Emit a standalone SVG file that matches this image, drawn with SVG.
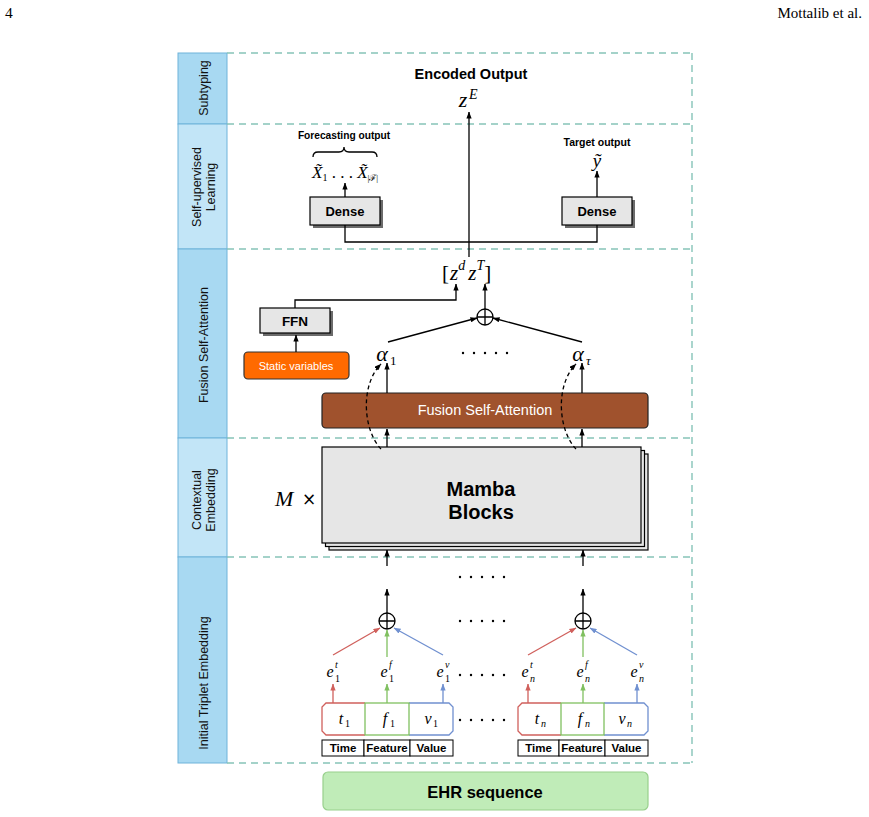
<svg xmlns="http://www.w3.org/2000/svg" width="869" height="817" viewBox="0 0 869 817">
<style>
.side{stroke:#6fb3da;stroke-width:1}
.dk{fill:#a8d9f2}
.lt{fill:#c2e5f7}
.sl{font-family:"Liberation Sans",Arial,sans-serif;font-size:12.5px;fill:#111;text-anchor:middle}
.dash{stroke:#86c4b8;stroke-width:1.4;stroke-dasharray:7 5;fill:none}
.b{font-family:"Liberation Sans",Arial,sans-serif;font-weight:bold;fill:#000;text-anchor:middle}
.w{font-family:"Liberation Sans",Arial,sans-serif;fill:#fff;text-anchor:middle}
.m{font-family:"Liberation Serif","Times New Roman",serif;font-style:italic;fill:#000}
.n{font-style:normal}
.ln{stroke:#000;stroke-width:1.3;fill:none}
.box{fill:#e6e6e6;stroke:#000;stroke-width:1.2}
.sh{fill:#6b6b6b}
.r{stroke:#d0605c;stroke-width:1.3;fill:none}
.g{stroke:#80c060;stroke-width:1.3;fill:none}
.bl{stroke:#7090d0;stroke-width:1.3;fill:none}
.lb{fill:#fff;stroke:#000;stroke-width:1}
.dot{fill:#000}
</style>
<defs>
<marker id="ak" viewBox="0 0 8 6" refX="7.5" refY="3" markerWidth="7" markerHeight="5.5" markerUnits="userSpaceOnUse" orient="auto"><path d="M0,0 L8,3 L0,6 z" fill="#000"/></marker>
<marker id="ar" viewBox="0 0 8 6" refX="7.5" refY="3" markerWidth="7" markerHeight="5.5" markerUnits="userSpaceOnUse" orient="auto"><path d="M0,0 L8,3 L0,6 z" fill="#d0605c"/></marker>
<marker id="ag" viewBox="0 0 8 6" refX="7.5" refY="3" markerWidth="7" markerHeight="5.5" markerUnits="userSpaceOnUse" orient="auto"><path d="M0,0 L8,3 L0,6 z" fill="#80c060"/></marker>
<marker id="ab" viewBox="0 0 8 6" refX="7.5" refY="3" markerWidth="7" markerHeight="5.5" markerUnits="userSpaceOnUse" orient="auto"><path d="M0,0 L8,3 L0,6 z" fill="#7090d0"/></marker>
</defs>

<g id="header">
<text x="5" y="18" font-family="'Liberation Serif','Times New Roman',serif" font-size="15.5">4</text>
<text x="862" y="18" font-family="'Liberation Serif','Times New Roman',serif" font-size="15" text-anchor="end">Mottalib et al.</text>
</g>

<g id="sidebar">
<rect class="side dk" x="178" y="53" width="49" height="71"/>
<rect class="side lt" x="178" y="124" width="49" height="125"/>
<rect class="side dk" x="178" y="249" width="49" height="189"/>
<rect class="side lt" x="178" y="438" width="49" height="119"/>
<rect class="side dk" x="178" y="557" width="49" height="206"/>
<text class="sl" transform="translate(208,88) rotate(-90)">Subtyping</text>
<text class="sl" transform="translate(201,187) rotate(-90)">Self-upervised</text>
<text class="sl" transform="translate(215,187) rotate(-90)">Learning</text>
<text class="sl" transform="translate(208,345) rotate(-90)">Fusion Self-Attention</text>
<text class="sl" transform="translate(201,500) rotate(-90)">Contextual</text>
<text class="sl" transform="translate(215,500) rotate(-90)">Embedding</text>
<text class="sl" transform="translate(208,683) rotate(-90)">Initial Triplet Embedding</text>
</g>

<g id="regions">
<path class="dash" d="M227 53H692M227 124H692M227 249H692M227 438H692M227 557H692M227 763H692M692 53V763"/>
</g>

<g id="encoded-output">
<text class="b" x="471" y="79" font-size="14.5">Encoded Output</text>
<text class="m" x="463" y="107" font-size="22" text-anchor="middle">z</text>
<text class="m" x="469" y="99" font-size="14">E</text>
</g>

<g id="forecasting-output">
<text class="b" x="344" y="139" font-size="10.2">Forecasting output</text>
<path class="ln" stroke-width="1.1" d="M313,157 Q313,152 318,152 H339 Q344,152 344,147 Q344,152 349,152 H372 Q377,152 377,157"/>
<text class="m" x="312" y="178" font-size="17">X̃<tspan class="n" font-size="10" dy="3">1</tspan><tspan class="n" dy="-3"> . . . </tspan>X̃<tspan class="n" font-size="9" dy="3">|ℱ|</tspan></text>
</g>

<g id="target-output">
<text class="b" x="597" y="146" font-size="10.5">Target output</text>
<text class="m" x="597" y="167" font-size="19" text-anchor="middle">ỹ</text>
</g>

<g id="dense-left">
<rect class="sh" x="313" y="200" width="70" height="28"/>
<rect class="box" x="310" y="197" width="70" height="28"/>
<text class="b" x="345" y="216" font-size="13">Dense</text>
</g>
<g id="dense-right">
<rect class="sh" x="565" y="200" width="70" height="28"/>
<rect class="box" x="562" y="197" width="70" height="28"/>
<text class="b" x="597" y="216" font-size="13">Dense</text>
</g>

<g id="concat">
<text class="m n" x="442" y="280" font-size="21">[<tspan class="m" dx="1">z</tspan><tspan class="m" font-size="14" dy="-10">d</tspan><tspan class="m" dy="10" dx="3">z</tspan><tspan class="m" font-size="14" dy="-10">T</tspan><tspan dy="10">]</tspan></text>
</g>

<g id="ffn">
<rect class="sh" x="263" y="311" width="70" height="25"/>
<rect class="box" x="260" y="308" width="70" height="25"/>
<text class="b" x="295" y="326" font-size="13.5">FFN</text>
</g>

<g id="static-variables">
<rect x="244" y="352" width="105" height="27" rx="4" fill="#ff6a00" stroke="#333" stroke-width="1.2"/>
<text class="w" x="296" y="370" font-size="11">Static variables</text>
</g>

<g id="sum-top">
<circle cx="485" cy="317" r="8" fill="none" stroke="#000" stroke-width="1.3"/>
<path class="ln" d="M477 317H493M485 309V325"/>
</g>

<g id="alpha-1">
<text class="m" x="382" y="361" font-size="22" text-anchor="middle">α</text>
<text class="m n" x="390" y="365" font-size="13">1</text>
</g>
<g id="alpha-tau">
<text class="m" x="578" y="361" font-size="22" text-anchor="middle">α</text>
<text class="m" x="586" y="365" font-size="13">τ</text>
</g>

<g id="fusion-self-attention">
<rect x="322" y="393" width="326" height="35" rx="4" fill="#a0522d" stroke="#222" stroke-width="1.2"/>
<text class="w" x="485" y="415" font-size="14.5">Fusion Self-Attention</text>
</g>

<g id="mamba-blocks">
<rect class="box" x="329" y="454" width="319" height="96"/>
<rect class="box" x="325.5" y="450.5" width="319" height="96"/>
<rect class="box" x="322" y="447" width="319" height="96"/>
<text class="b" x="481" y="496" font-size="20">Mamba</text>
<text class="b" x="481" y="519" font-size="20">Blocks</text>
</g>
<g id="m-times">
<text class="m" x="275" y="506" font-size="22">M</text>
<text x="302" y="505" font-size="17" font-family="'DejaVu Sans',sans-serif">×</text>
</g>

<g id="triplet-1">
<path class="r" d="M365 703H326L322 707V731L326 735H365"/>
<path class="bl" d="M409 703H449L453 707V731L449 735H409"/>
<rect class="g" x="365" y="703" width="44" height="32"/>
<text class="m" x="341" y="724" font-size="16" text-anchor="middle">t</text>
<text class="m n" x="345" y="727" font-size="10">1</text>
<text class="m" x="385" y="724" font-size="16" text-anchor="middle">f</text>
<text class="m n" x="390" y="727" font-size="10">1</text>
<text class="m" x="428" y="724" font-size="16" text-anchor="middle">v</text>
<text class="m n" x="433" y="727" font-size="10">1</text>
<rect class="lb" x="322" y="740" width="42" height="16"/>
<rect class="lb" x="364" y="740" width="46" height="16"/>
<rect class="lb" x="410" y="740" width="43" height="16"/>
<text class="b" x="343" y="752" font-size="11.5">Time</text>
<text class="b" x="387" y="752" font-size="11.5">Feature</text>
<text class="b" x="431.5" y="752" font-size="11.5">Value</text>
</g>

<g id="triplet-n">
<path class="r" d="M561 703H522L518 707V731L522 735H561"/>
<path class="bl" d="M604 703H644L648 707V731L644 735H604"/>
<rect class="g" x="561" y="703" width="43" height="32"/>
<text class="m" x="537" y="724" font-size="16" text-anchor="middle">t</text>
<text class="m" x="541" y="727" font-size="10">n</text>
<text class="m" x="580" y="724" font-size="16" text-anchor="middle">f</text>
<text class="m" x="585" y="727" font-size="10">n</text>
<text class="m" x="622" y="724" font-size="16" text-anchor="middle">v</text>
<text class="m" x="627" y="727" font-size="10">n</text>
<rect class="lb" x="518" y="740" width="41" height="16"/>
<rect class="lb" x="559" y="740" width="46" height="16"/>
<rect class="lb" x="605" y="740" width="43" height="16"/>
<text class="b" x="538.5" y="752" font-size="11.5">Time</text>
<text class="b" x="582" y="752" font-size="11.5">Feature</text>
<text class="b" x="626.5" y="752" font-size="11.5">Value</text>
</g>

<g id="embeddings-1">
<text class="m" x="330" y="677" font-size="16" text-anchor="middle">e</text>
<text class="m n" x="335" y="682" font-size="10">1</text>
<text class="m" x="335" y="668" font-size="10">t</text>
<text class="m" x="384" y="677" font-size="16" text-anchor="middle">e</text>
<text class="m n" x="389" y="682" font-size="10">1</text>
<text class="m" x="389" y="668" font-size="10">f</text>
<text class="m" x="440" y="677" font-size="16" text-anchor="middle">e</text>
<text class="m n" x="445" y="682" font-size="10">1</text>
<text class="m" x="445" y="668" font-size="10">v</text>
</g>
<g id="embeddings-n">
<text class="m" x="525" y="677" font-size="16" text-anchor="middle">e</text>
<text class="m" x="530" y="682" font-size="10">n</text>
<text class="m" x="530" y="668" font-size="10">t</text>
<text class="m" x="580" y="677" font-size="16" text-anchor="middle">e</text>
<text class="m" x="585" y="682" font-size="10">n</text>
<text class="m" x="585" y="668" font-size="10">f</text>
<text class="m" x="634" y="677" font-size="16" text-anchor="middle">e</text>
<text class="m" x="639" y="682" font-size="10">n</text>
<text class="m" x="639" y="668" font-size="10">v</text>
</g>

<g id="sum-1">
<circle cx="387" cy="621" r="8" fill="none" stroke="#000" stroke-width="1.3"/>
<path class="ln" d="M379 621H395M387 613V629"/>
</g>
<g id="sum-n">
<circle cx="583" cy="621" r="8" fill="none" stroke="#000" stroke-width="1.3"/>
<path class="ln" d="M575 621H591M583 613V629"/>
</g>

<g id="dots">
<g class="dot">
<circle cx="463" cy="353" r="1.2"/><circle cx="474" cy="353" r="1.2"/><circle cx="485" cy="353" r="1.2"/><circle cx="496" cy="353" r="1.2"/><circle cx="507" cy="353" r="1.2"/>
<circle cx="460" cy="577" r="1.2"/><circle cx="471" cy="577" r="1.2"/><circle cx="482" cy="577" r="1.2"/><circle cx="493" cy="577" r="1.2"/><circle cx="504" cy="577" r="1.2"/>
<circle cx="460" cy="621" r="1.2"/><circle cx="471" cy="621" r="1.2"/><circle cx="482" cy="621" r="1.2"/><circle cx="493" cy="621" r="1.2"/><circle cx="504" cy="621" r="1.2"/>
<circle cx="460" cy="675" r="1.2"/><circle cx="471" cy="675" r="1.2"/><circle cx="482" cy="675" r="1.2"/><circle cx="493" cy="675" r="1.2"/><circle cx="504" cy="675" r="1.2"/>
<circle cx="460" cy="720" r="1.2"/><circle cx="471" cy="720" r="1.2"/><circle cx="482" cy="720" r="1.2"/><circle cx="493" cy="720" r="1.2"/><circle cx="504" cy="720" r="1.2"/>
</g>
</g>

<g id="ehr-sequence">
<rect x="323" y="772" width="325" height="38" rx="5" fill="#c0ecb8" stroke="#98d08c" stroke-width="1.2"/>
<text class="b" x="485" y="798" font-size="16.5">EHR sequence</text>
</g>

<g id="connectors">
<path class="ln" d="M469 257V112" marker-end="url(#ak)"/>
<path class="ln" d="M345 225V242H597V225"/>
<path class="ln" d="M345 197V183" marker-end="url(#ak)"/>
<path class="ln" d="M597 197V171" marker-end="url(#ak)"/>
<path class="ln" d="M295 308V300H456V284" marker-end="url(#ak)"/>
<path class="ln" d="M485 309V284" marker-end="url(#ak)"/>
<path class="ln" d="M296 352V335" marker-end="url(#ak)"/>
<path class="ln" d="M388 342L477 318" marker-end="url(#ak)"/>
<path class="ln" d="M582 342L493 318" marker-end="url(#ak)"/>
<path class="ln" d="M387 393V363" marker-end="url(#ak)"/>
<path class="ln" d="M582 393V363" marker-end="url(#ak)"/>
<path class="ln" d="M387 447V429" marker-end="url(#ak)"/>
<path class="ln" d="M582 447V429" marker-end="url(#ak)"/>
<path class="ln" stroke-dasharray="4 3" d="M381 449C363 430,360 385,381 364" marker-end="url(#ak)"/>
<path class="ln" stroke-dasharray="4 3" d="M576 449C558 430,555 385,576 364" marker-end="url(#ak)"/>
<path class="ln" d="M387 566V550" marker-end="url(#ak)"/>
<path class="ln" d="M583 566V550" marker-end="url(#ak)"/>
<path class="ln" d="M387 613V589" marker-end="url(#ak)"/>
<path class="ln" d="M583 613V589" marker-end="url(#ak)"/>
<path class="r" d="M333 655L380 628" marker-end="url(#ar)"/>
<path class="g" d="M387 657V630" marker-end="url(#ag)"/>
<path class="bl" d="M443 655L394 628" marker-end="url(#ab)"/>
<path class="r" d="M528 655L576 628" marker-end="url(#ar)"/>
<path class="g" d="M583 657V630" marker-end="url(#ag)"/>
<path class="bl" d="M637 655L590 628" marker-end="url(#ab)"/>
<path class="r" d="M333 703V684" marker-end="url(#ar)"/>
<path class="g" d="M387 703V684" marker-end="url(#ag)"/>
<path class="bl" d="M443 703V684" marker-end="url(#ab)"/>
<path class="r" d="M528 703V684" marker-end="url(#ar)"/>
<path class="g" d="M583 703V684" marker-end="url(#ag)"/>
<path class="bl" d="M637 703V684" marker-end="url(#ab)"/>
</g>
</svg>
